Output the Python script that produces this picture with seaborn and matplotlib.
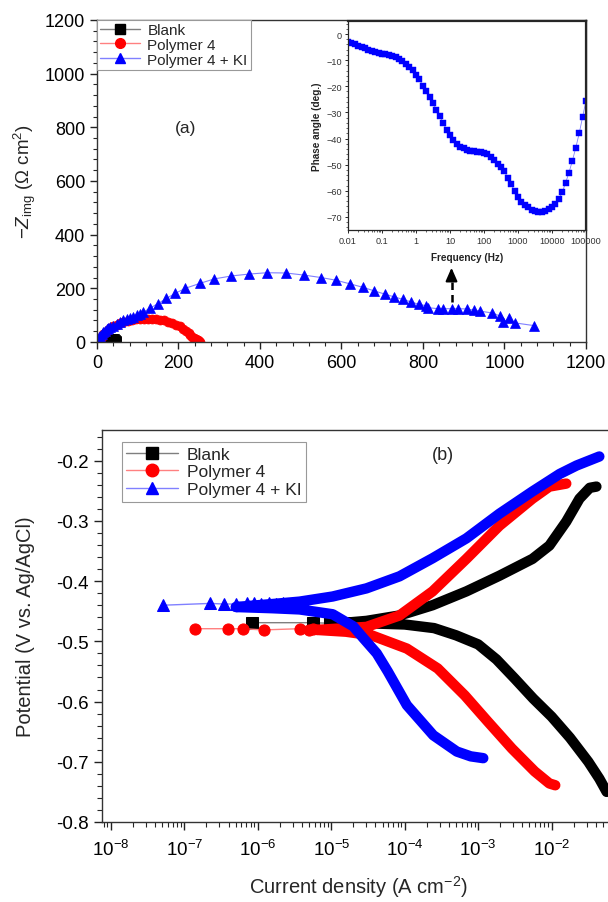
import numpy as np
import matplotlib
matplotlib.use("Agg")
import matplotlib.pyplot as plt
import seaborn as sns
from matplotlib.lines import Line2D
from matplotlib.ticker import MultipleLocator, AutoMinorLocator, LogLocator, FixedLocator, FixedFormatter, NullFormatter

sns.set_style("ticks")
plt.rcParams['font.family'] = ['Liberation Sans', 'DejaVu Sans']
plt.rcParams['mathtext.fontset'] = 'custom'
plt.rcParams['mathtext.rm'] = 'Liberation Sans'
plt.rcParams['mathtext.it'] = 'Liberation Sans:italic'
plt.rcParams['mathtext.bf'] = 'Liberation Sans:bold'

# ---------------- data: (a) Nyquist ----------------
series_names = ["Blank", "Polymer 4", "Polymer 4 + KI"]

blank_zre = [28, 29, 31, 34, 37, 40, 43, 45, 46, 47]
blank_zim = [1, 5, 8, 10, 11, 11, 10, 7, 4, 1]

p4_zre = [8, 12, 16, 21, 27, 33, 40, 48, 56, 65, 75, 85, 95, 105, 115, 125, 135, 145, 155,
          165, 175, 185, 195, 204, 212, 219, 225, 229, 233, 238, 243, 247, 250, 252]
p4_zim = [10, 20, 29, 37, 45, 52, 58, 64, 69, 74, 78, 82, 84, 86, 87, 87, 86, 85, 83,
          80, 76, 71, 65, 58, 50, 42, 33, 25, 18, 14, 12, 9, 5, 1]

ki_zre = [2, 4, 6, 8, 12, 15, 19, 24, 28, 33, 40, 48, 56, 65, 73, 81, 89, 97, 105, 114, 131,
          150, 170, 192, 217, 252, 288, 330, 373, 417, 464, 509, 550, 587, 622, 652, 681,
          707, 729, 750, 771, 790, 808, 812, 836, 850, 870, 886, 908, 926, 939, 970, 990,
          997, 1011, 1026, 1072]
ki_zim = [5, 12, 18, 23, 31, 37, 42, 47, 51, 54, 60, 67, 73, 80, 85, 89, 94, 99, 104, 111, 127,
          143, 162, 181, 200, 218, 235, 246, 253, 258, 257, 249, 240, 230, 216, 204, 190,
          178, 168, 159, 149, 140, 135, 128, 124, 124, 124, 124, 123, 118, 115, 108, 96,
          73, 89, 71, 61]

# ---------------- data: inset Bode phase ----------------
freq_hz = [0.01, 0.0126, 0.0158, 0.0200, 0.0251, 0.0316, 0.0398, 0.0501, 0.0631, 0.0794,
           0.1, 0.126, 0.158, 0.200, 0.251, 0.316, 0.398, 0.501, 0.631, 0.794,
           1, 1.26, 1.58, 2.00, 2.51, 3.16, 3.98, 5.01, 6.31, 7.94,
           10, 12.6, 15.8, 20.0, 25.1, 31.6, 39.8, 50.1, 63.1, 79.4,
           100, 126, 158, 200, 251, 316, 398, 501, 631, 794,
           1000, 1260, 1580, 2000, 2510, 3160, 3980, 5010, 6310, 7940,
           10000, 12600, 15800, 20000, 25100, 31600, 39800, 50100, 63100, 79400, 100000]
phase_deg = [-3.0, -3.4, -3.9, -4.4, -5.0, -5.5, -6.0, -6.5, -6.9, -7.2,
             -7.5, -7.7, -8.0, -8.3, -8.8, -9.5, -10.3, -11.3, -12.5, -13.9,
             -15.5, -17.3, -19.8, -22.0, -24.0, -26.5, -29.0, -31.4, -34.2, -36.6,
             -38.5, -40.4, -42.0, -43.2, -43.8, -44.3, -44.6, -44.8, -45.0, -45.2,
             -45.5, -46.0, -47.0, -48.3, -49.6, -50.8, -52.6, -55.0, -57.5, -60.2,
             -62.5, -64.2, -65.3, -66.3, -67.2, -67.8, -68.1, -68.1, -67.8, -67.1,
             -66.3, -65.2, -63.3, -60.5, -57.0, -53.0, -48.5, -43.5, -38.0, -31.8, -25.5]
freq_tick_labels = ["0.01", "0.1", "1", "10", "100", "1000", "10000", "100000"]

# ---------------- data: (b) Tafel (log10 current, potential) ----------------
current_ticks = [1e-8, 1e-7, 1e-6, 1e-5, 1e-4, 1e-3, 1e-2]
# sparse points near corrosion potential
blank_sp_logi = [-6.08, -5.25, -5.02, -4.90]
blank_sp_E = [-0.469, -0.469, -0.470, -0.470]
p4_sp_logi = [-6.86, -6.41, -6.20, -5.92, -5.43, -5.30, -5.25]
p4_sp_E = [-0.479, -0.479, -0.479, -0.481, -0.479, -0.481, -0.480]
ki_sp_logi = [-7.29, -6.65, -6.46, -6.30, -6.15, -6.05, -5.95, -5.85, -5.75, -5.65]
ki_sp_E = [-0.440, -0.437, -0.438, -0.438, -0.437, -0.437, -0.438, -0.437, -0.438, -0.437]

# dense sweep: cathodic end -> Ecorr -> anodic end
blank_logi = [-1.25, -1.35, -1.5, -1.75, -2.0, -2.25, -2.5, -2.75, -3.0, -3.3, -3.6, -4.0, -4.5, -4.8,
              -4.52, -4.07, -3.62, -3.16, -2.71, -2.26, -2.03, -1.80, -1.62, -1.48, -1.39]
blank_E = [-0.750, -0.728, -0.700, -0.660, -0.625, -0.595, -0.562, -0.530, -0.505, -0.490, -0.478, -0.472, -0.470, -0.469,
           -0.466, -0.457, -0.440, -0.417, -0.391, -0.363, -0.341, -0.301, -0.263, -0.245, -0.243]
p4_logi = [-1.95, -2.03, -2.23, -2.54, -2.87, -3.18, -3.55, -3.97, -4.45, -4.8, -5.2,
           -4.8, -4.52, -4.07, -3.62, -3.16, -2.71, -2.26, -2.03, -1.80]
p4_E = [-0.739, -0.736, -0.716, -0.678, -0.633, -0.590, -0.545, -0.512, -0.490, -0.484, -0.481,
        -0.478, -0.476, -0.457, -0.417, -0.363, -0.308, -0.263, -0.243, -0.238]
ki_logi = [-2.93, -3.10, -3.29, -3.61, -3.97, -4.23, -4.38, -4.56, -4.70, -4.98, -5.43, -5.8, -6.3,
           -5.8, -5.43, -4.98, -4.52, -4.07, -3.62, -3.16, -2.71, -2.26, -1.89, -1.66, -1.35]
ki_E = [-0.694, -0.691, -0.683, -0.656, -0.606, -0.550, -0.520, -0.495, -0.475, -0.455, -0.447, -0.445, -0.443,
        -0.438, -0.434, -0.4255, -0.412, -0.392, -0.362, -0.329, -0.288, -0.251, -0.222, -0.208, -0.193]

strong = ["#000000", "#ff0000", "#0000ff"]
light = ["#7f7f7f", "#ff8080", "#8080ff"]
markers = ["s", "o", "^"]

fig = plt.figure(figsize=(6.08, 9.03), dpi=100)

# ================= panel (a) =================
axa = fig.add_axes([0.1595, 0.6202, 0.8043, 0.3566])
nyq = [(blank_zre, blank_zim), (p4_zre, p4_zim), (ki_zre, ki_zim)]
msz = [7, 6.5, 7.5]
for k, (zx, zy) in enumerate(nyq):
    sns.lineplot(x=zx, y=zy, ax=axa, sort=False, estimator=None, color=light[k], lw=0.8,
                 marker=markers[k], markersize=msz[k], markerfacecolor=strong[k],
                 markeredgecolor=strong[k], markeredgewidth=0.5, legend=False)
axa.set_xlim(0, 1200)
axa.set_ylim(0, 1200)
axa.xaxis.set_major_locator(MultipleLocator(200))
axa.yaxis.set_major_locator(MultipleLocator(200))
axa.xaxis.set_minor_locator(AutoMinorLocator(5))
axa.yaxis.set_minor_locator(AutoMinorLocator(5))
axa.tick_params(which='major', direction='out', length=5, width=1, labelsize=13, colors='#222222', labelcolor='black')
axa.tick_params(which='minor', direction='out', length=3, width=0.8)
for s in axa.spines.values():
    s.set_linewidth(1.0)
    s.set_color('#333333')
axa.set_ylabel(r"$-Z_{\mathrm{img}}$ ($\Omega$ cm$^{2}$)", fontsize=13.5)
axa.yaxis.set_label_coords(-0.12, 0.5)
axa.text(218, 800, "(a)", fontsize=12.5, ha='center', va='center')

# dashed arrow to the inset
axa.plot([870, 870], [150, 250], ls=(0, (3, 2)), color='black', lw=1.8)
axa.annotate("", xy=(870, 287), xytext=(870, 240),
             arrowprops=dict(arrowstyle="-|>,head_length=0.8,head_width=0.35", color='black', lw=1.5))

ha = [Line2D([], [], color=light[k], lw=1, marker=markers[k], markersize=7,
             markerfacecolor=strong[k], markeredgecolor=strong[k]) for k in range(3)]
lga = axa.legend(ha, series_names, loc='upper left', bbox_to_anchor=(0, 1), borderaxespad=0,
                 fontsize=11, handlelength=2.6, labelspacing=0.05, borderpad=0.2,
                 handletextpad=0.5, fancybox=False, framealpha=1, edgecolor='#999999')
lga.get_frame().set_linewidth(0.8)

# ================= inset =================
axi = fig.add_axes([0.5724, 0.7442, 0.3914, 0.2315])
axi.set_xscale('log')
sns.lineplot(x=freq_hz, y=phase_deg, ax=axi, sort=False, estimator=None, color="#8080ff", lw=0.6,
             marker='s', markersize=3.8, markerfacecolor='#0000ff', markeredgecolor='#0000ff',
             markeredgewidth=0.3, legend=False)
axi.set_xlim(0.01, 100000)
axi.set_ylim(-75, 5)
axi.xaxis.set_major_locator(FixedLocator([0.01, 0.1, 1, 10, 100, 1000, 10000, 100000]))
axi.xaxis.set_major_formatter(FixedFormatter(freq_tick_labels))
axi.xaxis.set_minor_locator(LogLocator(base=10, subs=np.arange(2, 10), numticks=100))
axi.xaxis.set_minor_formatter(NullFormatter())
axi.yaxis.set_major_locator(MultipleLocator(10))
axi.yaxis.set_minor_locator(MultipleLocator(2))
axi.tick_params(which='major', direction='out', length=2.5, width=0.7, labelsize=6.6, pad=2, labelcolor='#333333')
axi.tick_params(which='minor', direction='out', length=1.5, width=0.5)
for s in axi.spines.values():
    s.set_linewidth(0.9)
axi.spines['top'].set_linewidth(1.6)
axi.spines['right'].set_linewidth(1.6)
axi.set_xlabel("Frequency (Hz)", fontsize=7.2, labelpad=5, fontweight='bold', color='#222222')
axi.set_ylabel("Phase angle (deg.)", fontsize=7.2, labelpad=3, fontweight='bold', color='#222222')

# ================= panel (b) =================
axb = fig.add_axes([0.1678, 0.0886, 0.8421, 0.4341])
axb.set_xscale('log')
dense = [(blank_logi, blank_E), (p4_logi, p4_E), (ki_logi, ki_E)]
sparse = [(blank_sp_logi, blank_sp_E), (p4_sp_logi, p4_sp_E), (ki_sp_logi, ki_sp_E)]
for k in range(3):
    sx, sy = sparse[k]
    dx, dy = dense[k]
    sns.lineplot(x=10.0 ** np.array(sx + [dx[len(dx) // 2]]), y=sy + [dy[len(dy) // 2]], ax=axb,
                 sort=False, estimator=None, color=light[k], lw=1.0, legend=False)
    sns.lineplot(x=10.0 ** np.array(sx), y=sy, ax=axb, sort=False, estimator=None, lw=0,
                 marker=markers[k], markersize=8, markerfacecolor=strong[k],
                 markeredgecolor=strong[k], legend=False)
    sns.lineplot(x=10.0 ** np.array(dx), y=dy, ax=axb, sort=False, estimator=None,
                 color=strong[k], lw=7.5, solid_capstyle='round', solid_joinstyle='round', legend=False)

axb.set_xlim(10 ** -8.12, 10 ** -1.15)
axb.set_ylim(-0.8, -0.149)
axb.xaxis.set_major_locator(FixedLocator(current_ticks))
axb.xaxis.set_major_formatter(matplotlib.ticker.LogFormatterSciNotation())
axb.xaxis.set_minor_locator(LogLocator(base=10, subs=np.arange(2, 10), numticks=100))
axb.xaxis.set_minor_formatter(NullFormatter())
axb.yaxis.set_major_locator(MultipleLocator(0.1))
axb.yaxis.set_minor_locator(MultipleLocator(0.02))
axb.yaxis.set_major_formatter(matplotlib.ticker.FuncFormatter(lambda v, p: f"{v:.1f}".replace("\u2212", "-")))
axb.tick_params(which='major', direction='out', length=6, width=1, labelsize=13.5, colors='#222222', labelcolor='black')
axb.tick_params(axis='x', which='major', pad=6)
axb.tick_params(which='minor', direction='out', length=3.5, width=0.8)
for s in axb.spines.values():
    s.set_linewidth(1.0)
    s.set_color('#333333')
axb.set_ylabel("Potential (V vs. Ag/AgCl)", fontsize=14.5)
axb.yaxis.set_label_coords(-0.13, 0.5)
axb.set_xlabel(r"Current density (A cm$^{-2}$)", fontsize=14.5, labelpad=10)
axb.text(10 ** -3.48, -0.19, "(b)", fontsize=13, ha='center', va='center')

hb = [Line2D([], [], color=light[k], lw=1, marker=markers[k], markersize=9,
             markerfacecolor=strong[k], markeredgecolor=strong[k]) for k in range(3)]
lgb = axb.legend(hb, series_names, loc='upper left', bbox_to_anchor=(0.039, 0.969), borderaxespad=0,
                 fontsize=12.5, handlelength=3.0, labelspacing=0.15, borderpad=0.25,
                 handletextpad=0.5, fancybox=False, framealpha=1, edgecolor='#999999')
lgb.get_frame().set_linewidth(0.8)

fig.savefig("out.png", dpi=100)
